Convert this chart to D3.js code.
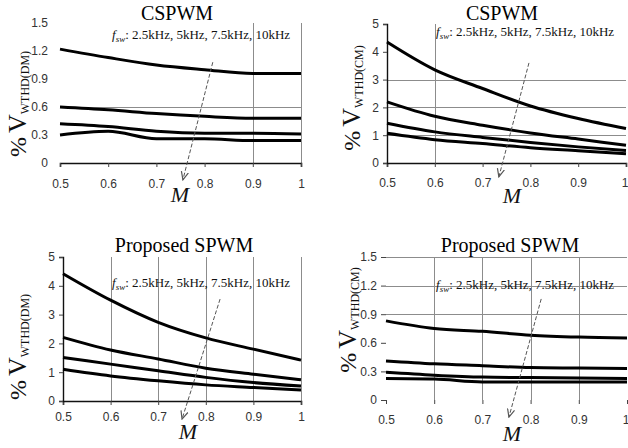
<!DOCTYPE html>
<html><head><meta charset="utf-8">
<script src="https://cdn.jsdelivr.net/npm/d3@7"></script>
<style>html,body{margin:0;padding:0;background:#fff}svg{display:block}</style>
</head><body><svg id="c" width="628" height="448"></svg>
<script>
// Modulation index M on the x axis
const modIndex = [0.5, 0.6, 0.7, 0.8, 0.9, 1.0];
const xTicks = [0.5, 0.6, 0.7, 0.8, 0.9, 1.0];
const yTicksFine = [0, 0.3, 0.6, 0.9, 1.2, 1.5];
const yTicksCoarse = [0, 1, 2, 3, 4, 5];
const switchingFreqs = ["2.5kHz", "5kHz", "7.5kHz", "10kHz"];
const titles = ["CSPWM", "CSPWM", "Proposed SPWM", "Proposed SPWM"];
const modes = ["DM", "CM", "DM", "CM"];

// %V_WTHD, one row per switching frequency (2.5, 5, 7.5, 10 kHz)
const cspwmDM = [
  [1.22, 1.13, 1.05, 1.00, 0.96, 0.96],
  [0.60, 0.57, 0.53, 0.50, 0.48, 0.48],
  [0.42, 0.39, 0.34, 0.32, 0.32, 0.31],
  [0.30, 0.34, 0.26, 0.26, 0.24, 0.24]
];
const cspwmCM = [
  [4.35, 3.35, 2.68, 2.05, 1.60, 1.24],
  [2.20, 1.68, 1.36, 1.08, 0.86, 0.64],
  [1.43, 1.12, 0.92, 0.74, 0.58, 0.45],
  [1.07, 0.84, 0.70, 0.55, 0.44, 0.33]
];
const proposedDM = [
  [4.42, 3.50, 2.73, 2.19, 1.80, 1.42],
  [2.21, 1.77, 1.46, 1.14, 0.93, 0.74],
  [1.51, 1.28, 1.05, 0.82, 0.64, 0.52],
  [1.10, 0.87, 0.70, 0.56, 0.47, 0.38]
];
const proposedCM = [
  [0.83, 0.75, 0.72, 0.68, 0.66, 0.65],
  [0.41, 0.38, 0.36, 0.34, 0.335, 0.33],
  [0.29, 0.26, 0.24, 0.235, 0.23, 0.225],
  [0.225, 0.22, 0.19, 0.19, 0.19, 0.19]
];

const svg = d3.select("#c");
const defs = svg.append("defs");
defs.append("marker")
  .attr("id", "arrowhead").attr("viewBox", "0 0 10 10")
  .attr("refX", 9).attr("refY", 5)
  .attr("markerWidth", 9).attr("markerHeight", 9)
  .attr("orient", "auto")
  .append("path").attr("d", "M0,1 L9,5 L0,9")
  .attr("fill", "none").attr("stroke", "#555").attr("stroke-width", 1.3);

const panels = [
  { data: cspwmDM, yMax: 1.5, yTicks: yTicksFine, fmt: d => d === 0 ? "0" : d.toFixed(1),
    box: { l: 60, r: 301, t: 23, b: 163 }, yAxisLine: false, yTickLen: 0, yPad: 12, xLabelOff: 16.5,
    hGrid: [0.6], vGrid: [0.9, 1.0],
    title: { x: 177, y: 20 }, note: { x: 112, y: 39 },
    ylab: { x: 26, y: 104 }, mlab: { x: 180, y: 202 },
    arrow: [[0.817, 1.08], [0.755, -0.18]] },
  { data: cspwmCM, yMax: 5, yTicks: yTicksCoarse, fmt: d => String(d),
    box: { l: 387, r: 626, t: 24, b: 163 }, yAxisLine: true, yTickLen: 4, yPad: 4, xLabelOff: 15.5,
    hGrid: [1, 2, 3], vGrid: [0.6],
    title: { x: 502, y: 20 }, note: { x: 436, y: 36 },
    ylab: { x: 360, y: 98 }, mlab: { x: 512, y: 203 },
    arrow: [[0.797, 3.6], [0.734, -0.5]] },
  { data: proposedDM, yMax: 5, yTicks: yTicksCoarse, fmt: d => String(d),
    box: { l: 63, r: 301, t: 257, b: 401 }, yAxisLine: true, yTickLen: 4, yPad: 4, xLabelOff: 11.5,
    hGrid: [], vGrid: [0.6, 0.7, 0.8, 0.9, 1.0],
    title: { x: 184, y: 252 }, note: { x: 112, y: 287 },
    ylab: { x: 26, y: 347 }, mlab: { x: 188, y: 439 },
    arrow: [[0.83, 3.54], [0.75, -0.63]] },
  { data: proposedCM, yMax: 1.5, yTicks: yTicksFine, fmt: d => d === 0 ? "0" : d.toFixed(1),
    box: { l: 386, r: 627, t: 257, b: 400 }, yAxisLine: false, yTickLen: 5, yPad: 4, xLabelOff: 15.5,
    hGrid: [0.9, 1.2, 1.5], vGrid: [0.6, 0.7, 0.8, 0.9],
    title: { x: 510, y: 252 }, note: { x: 436, y: 289 },
    ylab: { x: 356, y: 320 }, mlab: { x: 512, y: 441 },
    arrow: [[0.822, 1.06], [0.755, -0.18]] }
];

panels.forEach((p, i) => {
  const x = d3.scaleLinear().domain([0.5, 1.0]).range([p.box.l, p.box.r]);
  const y = d3.scaleLinear().domain([0, p.yMax]).range([p.box.b, p.box.t]);
  const g = svg.append("g");

  // grid lines
  g.selectAll(".hg").data(p.hGrid).join("line")
    .attr("x1", x(0.5)).attr("x2", x(1.0))
    .attr("y1", d => Math.round(y(d)) + 0.5).attr("y2", d => Math.round(y(d)) + 0.5)
    .attr("stroke", "#8c8c8c").attr("stroke-width", 1);
  g.selectAll(".vg").data(p.vGrid).join("line")
    .attr("x1", d => Math.round(x(d)) + 0.5).attr("x2", d => Math.round(x(d)) + 0.5)
    .attr("y1", y(0)).attr("y2", y(p.yMax))
    .attr("stroke", "#8c8c8c").attr("stroke-width", 1);

  // x axis
  const xa = g.append("g").attr("transform", `translate(0,${y(0)})`)
    .call(d3.axisBottom(x).tickValues(xTicks).tickSize(4).tickPadding(p.xLabelOff - 4)
      .tickFormat(d => d === 1 ? "1" : d.toFixed(1)));
  xa.select(".domain").attr("stroke", "#111").attr("stroke-width", 1.6)
    .style("display", i === 3 ? "none" : null);
  xa.selectAll(".tick line").attr("stroke", "#444");
  // keep the last label inside the page when the panel reaches the right edge
  if (p.box.r > 620) {
    xa.selectAll(".tick text").filter(d => d === 1).attr("text-anchor", "end").attr("dx", "0.15em");
  }

  // y axis
  const ya = g.append("g").attr("transform", `translate(${x(0.5)},0)`)
    .call(d3.axisLeft(y).tickValues(p.yTicks).tickSize(p.yTickLen).tickPadding(p.yPad)
      .tickFormat(p.fmt));
  ya.select(".domain").attr("stroke", "#111").attr("stroke-width", 1.4)
    .style("display", p.yAxisLine ? null : "none");
  ya.selectAll(".tick line").attr("stroke", "#444");

  svg.selectAll(".tick text").attr("font-family", "Liberation Sans, Arial, sans-serif")
    .attr("font-size", 12).attr("fill", "#333");

  // curves, one per switching frequency
  const line = d3.line().x((d, k) => x(modIndex[k])).y(d => y(d)).curve(d3.curveMonotoneX);
  g.selectAll(".curve").data(p.data).join("path")
    .attr("d", line).attr("fill", "none").attr("stroke", "#000")
    .attr("stroke-width", 3).attr("stroke-linejoin", "round");

  // arrow showing increasing switching frequency
  g.append("line")
    .attr("x1", x(p.arrow[0][0])).attr("y1", y(p.arrow[0][1]))
    .attr("x2", x(p.arrow[1][0])).attr("y2", y(p.arrow[1][1]))
    .attr("stroke", "#555").attr("stroke-width", 1).attr("stroke-dasharray", "4,2")
    .attr("marker-end", "url(#arrowhead)");

  // title
  svg.append("text").attr("x", p.title.x).attr("y", p.title.y)
    .attr("text-anchor", "middle").attr("font-family", "Liberation Serif, Times New Roman, serif")
    .attr("font-size", 20).attr("fill", "#000").text(titles[i]);

  // switching frequency note
  const note = svg.append("text").attr("x", p.note.x).attr("y", p.note.y)
    .attr("font-family", "Liberation Serif, Times New Roman, serif")
    .attr("font-size", 13).attr("fill", "#111");
  note.append("tspan").attr("font-style", "italic").text("f");
  note.append("tspan").attr("font-style", "italic").attr("font-size", 9).attr("dy", 3).text("sw");
  note.append("tspan").attr("dy", -3).text(": " + switchingFreqs.join(", "));

  // y-axis title
  const yl = svg.append("text")
    .attr("transform", `translate(${p.ylab.x},${p.ylab.y}) rotate(-90)`)
    .attr("text-anchor", "middle")
    .attr("font-family", "Liberation Serif, Times New Roman, serif").attr("fill", "#111");
  yl.append("tspan").attr("font-size", 24).text("%");
  yl.append("tspan").attr("font-size", 26).attr("dx", 4).text("V");
  yl.append("tspan").attr("font-size", 12).attr("dy", 3).text("WTHD(" + modes[i] + ")");

  // x-axis title
  svg.append("text").attr("x", p.mlab.x).attr("y", p.mlab.y)
    .attr("text-anchor", "middle").attr("font-family", "Liberation Serif, Times New Roman, serif")
    .attr("font-style", "italic").attr("font-size", 22).attr("fill", "#111").text("M");
});
</script>
</body></html>
